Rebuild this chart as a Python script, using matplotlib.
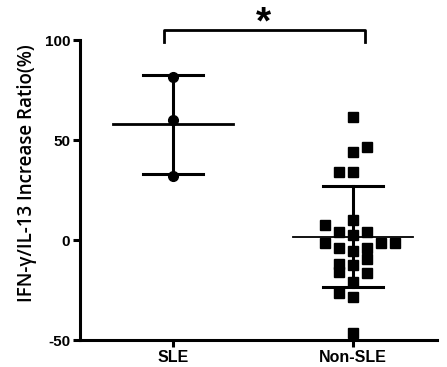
import numpy as np
import matplotlib
matplotlib.use("Agg")
import matplotlib.pyplot as plt

plt.rcParams['font.family'] = ['Liberation Sans', 'DejaVu Sans']

categories = ["SLE", "Non-SLE"]
sle_values = [81.5, 60.0, 32.0]
nonsle_values = [61.5, 46.5, 44.0, 34.0, 34.0, 10.0, 7.5, 4.0, 4.0, 2.5,
                 -1.5, -1.5, -1.5, -4.0, -5.5, -4.0, -9.5, -12.0, -16.0, -12.5,
                 -16.5, -21.0, -26.5, -28.5, -46.5]
# horizontal column index of each Non-SLE point in the scatter (swarm column)
nonsle_cols = [0, 1, 0, -1, 0, 0, -2, -1, 1, 0,
               -2, 2, 3, -1, 0, 1, 1, -1, -1, 0,
               1, 0, -1, 0, 0]
y_ticks = [-50, 0, 50, 100]
ylabel = "IFN-\u03b3/IL-13 Increase Ratio(%)"
sig_label = "*"

fig = plt.figure(figsize=(4.47, 3.67), dpi=100)
ax = fig.add_axes([80/447, 27/367, 357/447, 300/367])

col_step = 0.078
lw = 2.2

# SLE
s = np.array(sle_values)
m, sd = s.mean(), s.std(ddof=1)
ax.plot([0, 0], [m - sd, m + sd], color='black', lw=lw, zorder=2)
ax.plot([-0.167, 0.167], [m + sd, m + sd], color='black', lw=lw, zorder=2)
ax.plot([-0.167, 0.167], [m - sd, m - sd], color='black', lw=lw, zorder=2)
ax.plot([-0.333, 0.333], [m, m], color='black', lw=2.0, zorder=2)
ax.plot(np.zeros(len(s)), s, 'o', color='black', ms=7, zorder=3)

# Non-SLE
n = np.array(nonsle_values)
m2, sd2 = n.mean(), n.std(ddof=1)
xs = 1 + np.array(nonsle_cols) * col_step
ax.plot(xs, n, 's', color='black', ms=7.5, zorder=3)
ax.plot([1, 1], [m2 - sd2, m2 + sd2], color='black', lw=lw, zorder=2)
ax.plot([1 - 0.167, 1 + 0.167], [m2 + sd2, m2 + sd2], color='black', lw=lw, zorder=2)
ax.plot([1 - 0.167, 1 + 0.167], [m2 - sd2, m2 - sd2], color='black', lw=lw, zorder=2)
ax.plot([1 - 0.333, 1 + 0.333], [m2, m2], color='black', lw=1.3, zorder=2)

ax.set_xlim(-0.517, 1.467)
ax.set_ylim(-50, 100)
ax.set_xticks([0, 1])
ax.set_xticklabels(categories, fontsize=11.5, fontweight='bold')
ax.set_yticks(y_ticks)
ax.set_yticklabels([str(t) for t in y_ticks], fontsize=11, fontweight='bold')
ax.set_ylabel(ylabel, fontsize=13.5, family=['Open Sans', 'DejaVu Sans'],
              fontweight='semibold', va='center')
ax.yaxis.set_label_coords(-0.148, 0.557)
for sp in ['top', 'right']:
    ax.spines[sp].set_visible(False)
for sp in ['left', 'bottom']:
    ax.spines[sp].set_linewidth(2.2)
ax.tick_params(axis='both', width=2.2, length=5, direction='out', pad=2)

# significance bracket
bx0, bx1, by, bleg = -0.05, 1.067, 105, 99
ax.plot([bx0, bx0, bx1, bx1], [bleg, by, by, bleg], color='black', lw=2.0,
        clip_on=False)
ax.text(0.5, 103.5, sig_label, ha='center', va='baseline', fontsize=28,
        fontweight='bold', clip_on=False)

fig.savefig("out.png", dpi=100)
